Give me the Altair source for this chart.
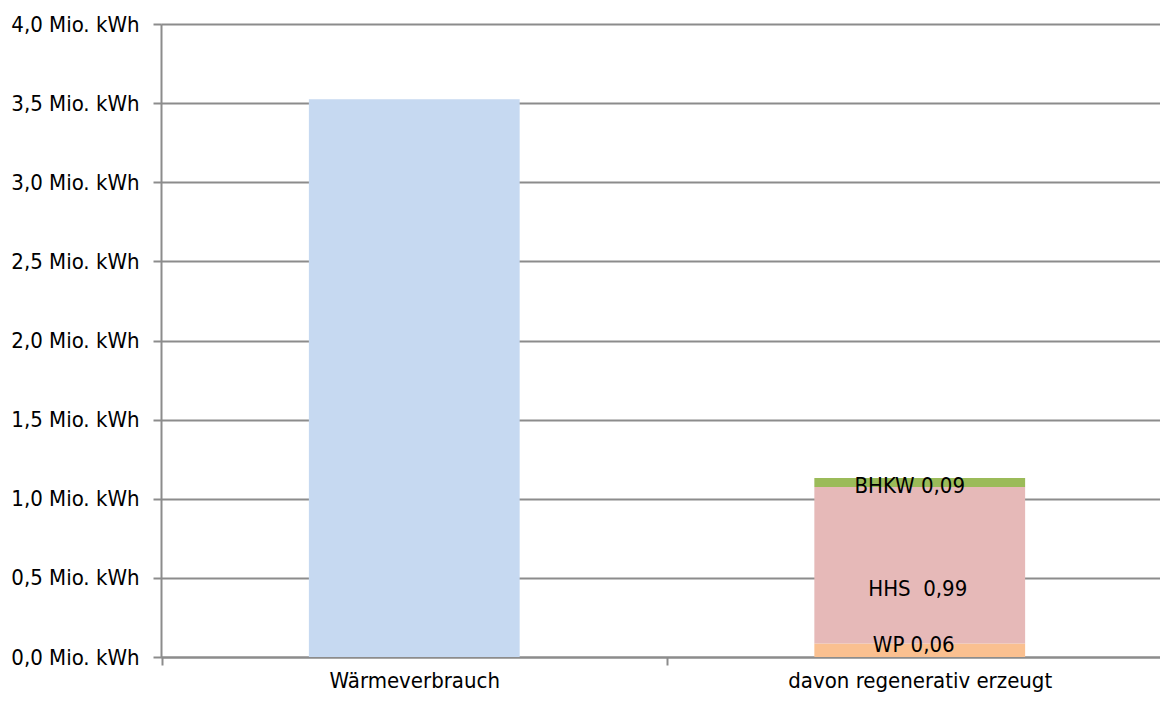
import altair as alt
import pandas as pd

categories = ["Wärmeverbrauch", "davon regenerativ erzeugt", "davon regenerativ erzeugt", "davon regenerativ erzeugt"]
segments = ["Verbrauch", "WP", "HHS", "BHKW"]
values = [3.525, 0.086, 0.988, 0.057]
order = [0, 0, 1, 2]
labels = ["", "WP 0,06", "HHS\u00a0\u00a00,99", "BHKW 0,09"]
seg_colors = ["#C6D9F1", "#FAC090", "#E6B9B8", "#9BBB59"]
y_ticks = [0.0, 0.5, 1.0, 1.5, 2.0, 2.5, 3.0, 3.5, 4.0]
cat_order = ["Wärmeverbrauch", "davon regenerativ erzeugt"]

df = pd.DataFrame({"cat": categories, "seg": segments, "val": values, "ord": order, "label": labels})
df["top"] = df.groupby("cat")["val"].cumsum()
df["mid"] = df["top"] - df["val"] / 2

FONT = "DejaVu Sans Condensed"
FS = 22
GRID = "#8C8C8C"
W, H = 999, 633
P_IN, P_OUT = 0.583, 0.2797
STEP = W / (2 - P_IN + 2 * P_OUT)

x_enc = alt.X(
    "cat:N",
    sort=cat_order,
    title=None,
    scale=alt.Scale(paddingInner=P_IN, paddingOuter=P_OUT, align=0.523),
    axis=alt.Axis(
        labelAngle=0, labelFont=FONT, labelFontSize=FS, labelColor="#000000",
        labelPadding=5, labelBaseline="top", labelLimit=0,
        tickOffset=-STEP / 2, labelOffset=STEP / 2, tickSize=8,
        tickColor=GRID, tickWidth=2, domainColor=GRID, domainWidth=2, grid=False,
    ),
)

bars = alt.Chart(df).mark_bar().encode(
    x=x_enc,
    y=alt.Y(
        "val:Q", stack="zero", title=None,
        scale=alt.Scale(domain=[0, 4], nice=False),
        axis=alt.Axis(
            values=y_ticks,
            labelExpr="replace(format(datum.value, '.1f'), '.', ',') + ' Mio. kWh'",
            labelFont=FONT, labelFontSize=FS, labelColor="#000000", labelPadding=14,
            labelLimit=0, tickSize=8, tickColor=GRID, tickWidth=2,
            domainColor=GRID, domainWidth=2, gridColor=GRID, gridWidth=2, grid=True,
        ),
    ),
    color=alt.Color("seg:N", scale=alt.Scale(domain=segments, range=seg_colors), legend=None),
    order=alt.Order("ord:Q"),
)

layers = [bars]
offsets = {"WP": (-6, -5), "HHS": (-2, 24), "BHKW": (-10, 3)}
for seg, (dx, dy) in offsets.items():
    t = alt.Chart(df).transform_filter(alt.datum.seg == seg).mark_text(
        font=FONT, fontSize=FS, color="#000000", baseline="middle", align="center", dx=dx, dy=dy
    ).encode(
        x=alt.X("cat:N", sort=cat_order),
        y=alt.Y("mid:Q"),
        text="label:N",
    )
    layers.append(t)

chart = alt.layer(*layers).properties(
    width=W, height=H,
    autosize=alt.AutoSizeParams(type="none"),
    padding={"left": 153, "top": 16, "right": 0, "bottom": 38},
).configure_view(stroke=None).configure(background="#FFFFFF")

chart.save("out.html", embed_options={"renderer": "svg", "actions": False})
